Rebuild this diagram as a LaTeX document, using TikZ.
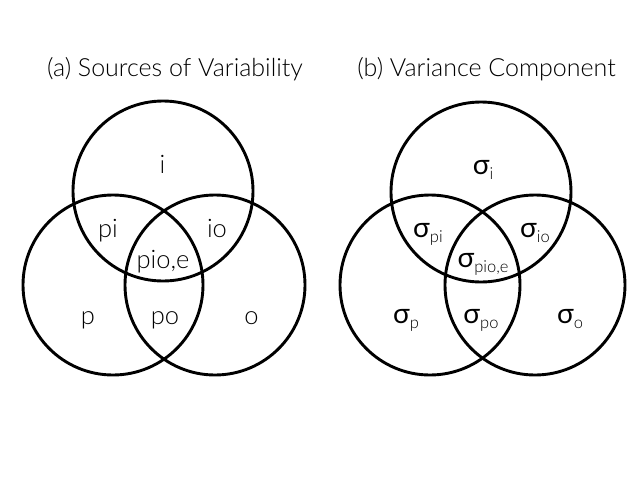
\documentclass[tikz,border=0pt]{standalone}
\usepackage{fontspec}
\setmainfont{Lato Light}
\newfontfamily\sgfont{Lato}
\newcommand{\sg}[1]{{\sgfont σ}\raisebox{-5pt}{\fontsize{16.5}{16.5}\selectfont #1}}
\tikzset{
  venn/.style={draw=black, line width=2.9pt},
  lab/.style={font=\fontsize{25.5}{30}\selectfont, inner sep=0pt, anchor=base},
  slab/.style={font=\fontsize{28}{32}\selectfont, inner sep=0pt, anchor=base},
  ttl/.style={font=\fontsize{25}{30}\selectfont, inner sep=0pt, anchor=base},
}
\begin{document}
\begin{tikzpicture}[x=1pt,y=-1pt]
\useasboundingbox (0,0) rectangle (640,480);
\fill[white] (0,0) rectangle (640,480);
% panel a
\node[ttl] (ta) at (175,76) {(a) Sources of Variability};
\draw[venn] (163,191) circle (90);
\draw[venn] (113,285) circle (90);
\draw[venn] (215,285) circle (90);
\node[lab] (ai) at (162.5,173) {i};
\node[lab] (api) at (108,237) {pi};
\node[lab] (aio) at (217,237) {io};
\node[lab] (apio) at (163,268) {pio,e};
\node[lab] (ap) at (88,324) {p};
\node[lab] (apo) at (165,324) {po};
\node[lab] (ao) at (251.5,324) {o};
% panel b
\node[ttl] (tb) at (486.5,76) {(b) Variance Component};
\draw[venn] (481,192) circle (90);
\draw[venn] (430,285) circle (90);
\draw[venn] (535,285) circle (90);
\node[slab] (bi) at (483,174) {\sg{i}};
\node[slab] (bpi) at (428,237) {\sg{pi}};
\node[slab] (bio) at (535,237) {\sg{io}};
\node[slab] (bpio) at (483,267) {\sg{pio,e}};
\node[slab] (bp) at (406,323) {\sg{p}};
\node[slab] (bpo) at (481,323) {\sg{po}};
\node[slab] (bo) at (570,323) {\sg{o}};
\end{tikzpicture}
\end{document}
